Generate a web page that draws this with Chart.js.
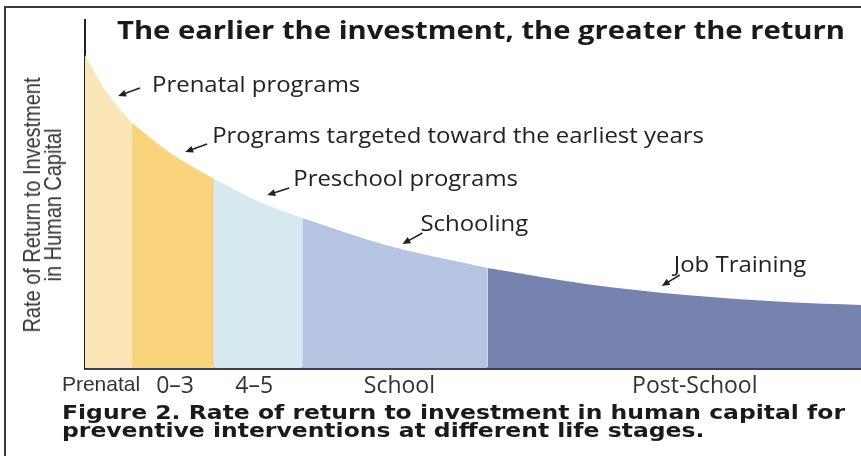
<!DOCTYPE html>
<html>
<head>
<meta charset="utf-8">
<script src="https://cdn.jsdelivr.net/npm/chart.js@4/dist/chart.umd.min.js"></script>
<style>
  body { margin: 0; background: #fff; }
  #wrap { position: relative; width: 861px; height: 456px; overflow: hidden; background: #fff; }
  #frame { position: absolute; left: 4px; top: 6px; width: 900px; height: 500px; border-top: 2px solid #3a3a3a; border-left: 2px solid #3a3a3a; }
  #title { position: absolute; left: 117px; top: 12px; font: bold 25px 'Open Sans', sans-serif; color: #1a1a1a; white-space: nowrap; transform-origin: 0 0; }
  #ytitle { position: absolute; left: 42px; top: 205px; width: 400px; margin-left: -200px; margin-top: -21px;
            text-align: center; font: 24px 'Liberation Sans', sans-serif; line-height: 21px; color: #333; }
  #ytitle span { white-space: nowrap; }
  #caption { position: absolute; left: 62px; top: 403px; font: bold 20px 'DejaVu Sans', sans-serif; line-height: 18px; color: #1a1a1a; white-space: nowrap; transform-origin: 0 0; }
  canvas { position: absolute; left: 0; top: 0; }
</style>
</head>
<body>
<div id="wrap">
  <div id="frame"></div>
  <canvas id="chart" width="861" height="456"></canvas>
  <div id="title">The earlier the investment, the greater the return</div>
  <div id="ytitle"><span id="yline1">Rate of Return to Investment</span><br><span>in Human Capital</span></div>
  <div id="caption">Figure 2. Rate of return to investment in human capital for<br>preventive interventions at different life stages.</div>
</div>
<script>
// curve of return vs. life stage (x: position along life course, y: relative return)
const curveX = [0, 20, 47, 85, 129, 170, 217, 300, 402, 500, 600, 700, 775];
const curveY = [313, 278, 245, 215, 189, 168, 150, 123, 100, 84, 73, 66, 63];

// life stage bands
const bandNames = ['Prenatal', '0–3', '4–5', 'School', 'Post-School'];
const bandEdges = [0, 47, 129, 217, 402, 775];
const bandColors = ['#fce5b6', '#f9d47c', '#d5e9ef', '#b5c4e1', '#7583ae'];

// axis labels under the bands
const tickX = [16, 90, 169, 314, 609];
const tickLabels = ['Prenatal', '0–3', '4–5', 'School', 'Post-School'];

// callouts pointing at the curve
const notes = [
  { text: 'Prenatal programs', x: 33, y: 272, dx: 34, dy: -4, ax: 22, ay: -8 },
  { text: 'Programs targeted toward the earliest years', x: 100, y: 216, dx: 27, dy: -9, ax: 22, ay: -8 },
  { text: 'Preschool programs', x: 182, y: 173, dx: 26, dy: -9, ax: 22, ay: -7 },
  { text: 'Schooling', x: 317, y: 124, dx: 18, dy: -13, ax: 20, ay: -11 },
  { text: 'Job Training', x: 576, y: 82, dx: 12, dy: -14, ax: 18, ay: -11 },
];

// the source figure is stretched sideways; squeeze/stretch text to the same widths
function fitText() {
  const title = document.getElementById('title');
  const cap = document.getElementById('caption');
  const yt = document.getElementById('ytitle');
  title.style.transform = 'none';
  cap.style.transform = 'none';
  title.style.transform = `scaleX(${728 / title.getBoundingClientRect().width})`;
  cap.style.transform = `scaleX(${783 / cap.getBoundingClientRect().width})`;
  yt.style.transform = 'none';
  const w = document.getElementById('yline1').getBoundingClientRect().width;
  yt.style.transform = `rotate(-90deg) scale(${255 / w}, 1)`;
}
fitText();
document.fonts.ready.then(fitText);

const datasets = bandNames.map((name, i) => {
  const lo = bandEdges[i], hi = bandEdges[i + 1];
  const pts = [];
  curveX.forEach((x, j) => { if (x >= lo && x <= hi) pts.push({ x, y: curveY[j] }); });
  return {
    label: name,
    data: pts,
    backgroundColor: bandColors[i],
    borderWidth: 0,
    pointRadius: 0,
    fill: 'origin',
    tension: 0.4,
    cubicInterpolationMode: 'monotone',
  };
});

const callouts = {
  id: 'callouts',
  afterDatasetsDraw(chart) {
    const { ctx, scales: { x, y } } = chart;
    ctx.save();
    ctx.font = '21px "Open Sans", sans-serif';
    ctx.fillStyle = '#222';
    ctx.strokeStyle = '#222';
    ctx.lineWidth = 1.5;
    ctx.textBaseline = 'alphabetic';
    for (const n of notes) {
      const px = x.getPixelForValue(n.x);
      const py = y.getPixelForValue(n.y);
      ctx.save();
      ctx.translate(px + n.dx, py + n.dy);
      ctx.scale(1.14, 1);
      ctx.fillText(n.text, 0, 0);
      ctx.restore();
      // arrow
      const tx = px + n.ax, ty = py + n.ay;
      const ang = Math.atan2(py - ty, px - tx);
      ctx.beginPath();
      ctx.moveTo(tx, ty);
      ctx.lineTo(px - 5 * Math.cos(ang), py - 5 * Math.sin(ang));
      ctx.stroke();
      ctx.beginPath();
      ctx.moveTo(px, py);
      ctx.lineTo(px - 8 * Math.cos(ang) + 3.5 * Math.sin(ang), py - 8 * Math.sin(ang) - 3.5 * Math.cos(ang));
      ctx.lineTo(px - 8 * Math.cos(ang) - 3.5 * Math.sin(ang), py - 8 * Math.sin(ang) + 3.5 * Math.cos(ang));
      ctx.closePath();
      ctx.fill();
    }
    ctx.restore();
  }
};

new Chart(document.getElementById('chart'), {
  type: 'line',
  data: { datasets },
  plugins: [callouts],
  options: {
    responsive: false,
    animation: false,
    layout: { padding: { top: 20, right: 0, left: 0, bottom: 0 } },
    plugins: { legend: { display: false }, tooltip: { enabled: false } },
    scales: {
      x: {
        type: 'linear',
        min: 0,
        max: 775,
        afterBuildTicks: s => { s.ticks = tickX.map(v => ({ value: v })); },
        afterFit: s => { s.height = 88; },
        ticks: {
          autoSkip: false,
          maxRotation: 0,
          padding: 5,
          color: '#333',
          callback: v => tickLabels[tickX.indexOf(v)],
          font: c => c.index === 0
            ? { family: "'Liberation Sans', sans-serif", size: 21 }
            : { family: "'Open Sans', sans-serif", size: 23 },
        },
        grid: { display: false, drawTicks: false },
        border: { display: true, color: '#3b4152', width: 3 },
      },
      y: {
        min: 0,
        max: 348,
        afterFit: s => { s.width = 85; },
        ticks: { display: false },
        grid: { display: false, drawTicks: false },
        border: { display: true, color: '#222', width: 2 },
      },
    },
  },
});
</script>
</body>
</html>
